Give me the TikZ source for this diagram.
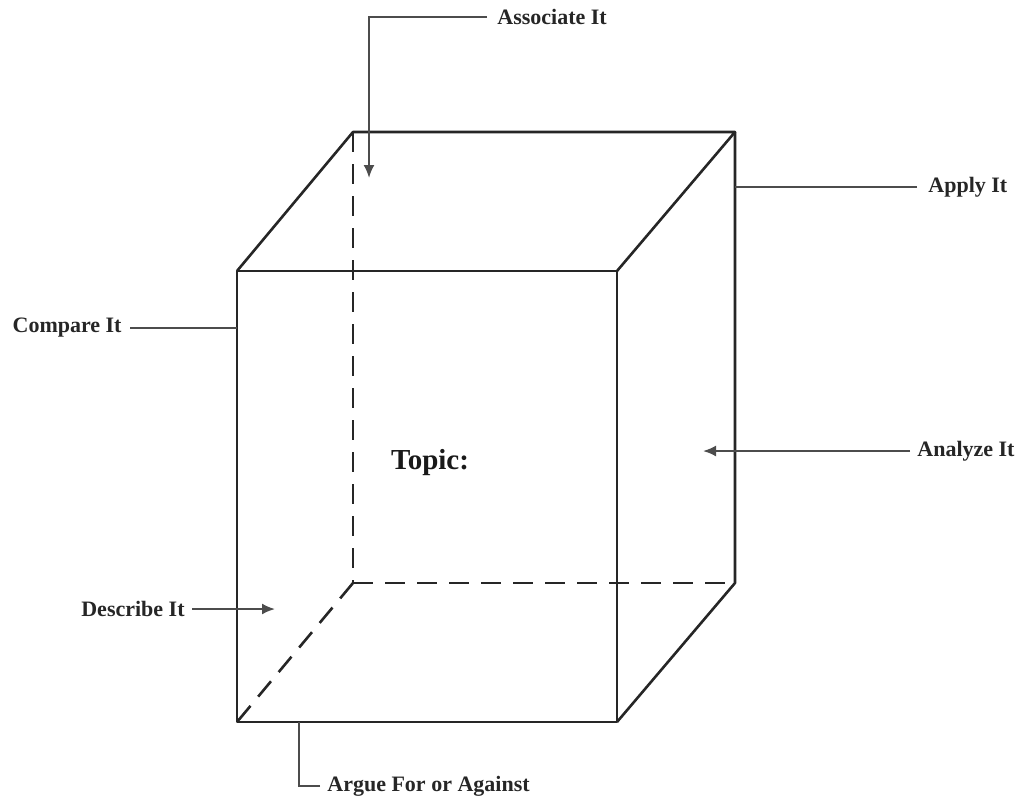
\documentclass[tikz,border=0pt]{standalone}
\usepackage{fontspec}
\setmainfont{Liberation Serif}
\usetikzlibrary{arrows.meta, calc}

\begin{document}
\begin{tikzpicture}[
    x=0.5pt, y=-0.5pt,
    >={Latex[length=6.5pt, width=5.5pt]},
    edge/.style={line width=1.3pt, black!85, line join=round},
    hidden/.style={edge, dash pattern=on 10pt off 6pt},
    lead/.style={line width=1pt, black!70},
    lbl/.style={font=\bfseries\fontsize{11}{13}\selectfont, text=black!85, inner sep=0pt},
    topic/.style={font=\bfseries\fontsize{14.5}{16}\selectfont, text=black!90, inner sep=0pt},
]
\useasboundingbox (0,0) rectangle (1018,799);

% cube corners, front face then back face
\coordinate (fa) at (237,271);
\coordinate (fb) at (617,271);
\coordinate (fc) at (617,722);
\coordinate (fd) at (237,722);
\coordinate (ba) at (353,132);
\coordinate (bb) at (735,132);
\coordinate (bc) at (735,583);
\coordinate (bd) at (353,583);

\foreach \a/\b in {ba/bd, bd/bc, bd/fd}
    \draw[hidden] (\a) -- (\b);

\draw[edge] (fa) -- (fb) -- (fc) -- (fd) -- cycle;
\draw[edge] (fa) -- (ba) -- (bb) -- (fb);
\draw[edge] (bb) -- (bc) -- (fc);

\node[topic] (topic) at (430,463) {Topic:};

\node[lbl, anchor=west] (assoc)   at (497,17)  {Associate It};
\node[lbl, anchor=west] (apply)   at (928,187) {Apply It};
\node[lbl, anchor=east] (compare) at (122,328) {Compare It};
\node[lbl, anchor=west] (analyze) at (917,451) {Analyze It};
\node[lbl, anchor=east] (describe)at (185,609) {Describe It};
\node[lbl, anchor=west] (argue)   at (327,786) {Argue For or Against};

\coordinate (assocTip)  at (369,178);
\coordinate (applyEnd)  at (735,187);
\coordinate (cmpEnd)    at (237,328);
\coordinate (anlTip)    at (703,451);
\coordinate (dscTip)    at (275,609);
\coordinate (argEnd)    at (299,722);

\draw[lead, ->] ([xshift=-5pt]assoc.west) -| (assocTip);
\draw[lead] ([xshift=-5.5pt]apply.west) -- (applyEnd);
\draw[lead] ([xshift=4pt]compare.east) -- (cmpEnd);
\draw[lead, ->] ([xshift=-3.5pt]analyze.west) -- (anlTip);
\draw[lead, ->] ([xshift=3.5pt]describe.east) -- (dscTip);
\draw[lead] ([xshift=-3.5pt]argue.west) -| (argEnd);

\end{tikzpicture}
\end{document}
